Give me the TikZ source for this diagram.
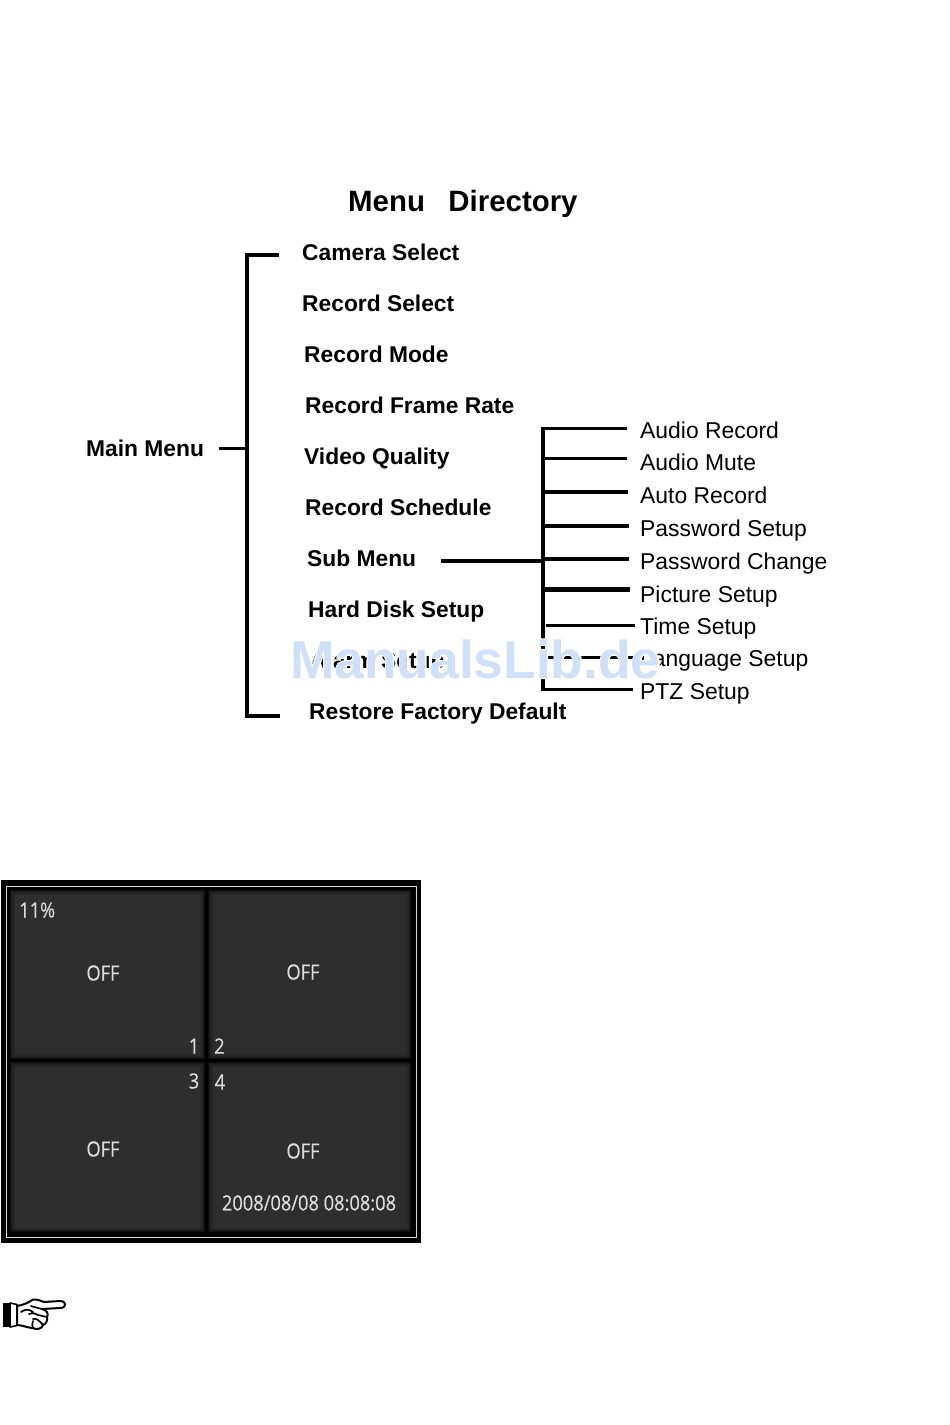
\documentclass[tikz,border=0pt]{standalone}
\usepackage{fontspec}
\setmainfont{Liberation Sans}
\newfontfamily\screenfont[FakeStretch=0.87,FakeBold=0.3]{Open Sans}
\definecolor{wmblue}{HTML}{CFE0F8}
\definecolor{panel}{HTML}{2E2E2E}
\definecolor{scrtext}{HTML}{DCDCDC}
\tikzset{
  x=1pt,y=-1pt,
  title/.style={inner sep=0,anchor=base west,font=\bfseries\fontsize{29.4}{32}\selectfont},
  mainitem/.style={inner sep=0,anchor=base west,font=\bfseries\fontsize{22.8}{26}\selectfont},
  subitem/.style={inner sep=0,anchor=base west,font=\fontsize{22.9}{27}\selectfont},
  link/.style={line width=#1,black},
  link/.default=3pt,
  watermark/.style={inner sep=0,anchor=base west,text=wmblue,font=\bfseries\fontsize{53.3}{56}\selectfont},
  scr/.style={inner sep=0,text=scrtext,font=\screenfont\fontsize{21}{24}\selectfont}
}
\begin{document}
\begin{tikzpicture}
\useasboundingbox[fill=white] (0,0) rectangle (950,1425);
% title and lists
\node[title] (title) at (348,211) {Menu\hspace{0.8em}Directory};
\node[mainitem] (main) at (86,456) {Main Menu};
\node[mainitem] (m1) at (302,260) {Camera Select};
\node[mainitem] (m2) at (302,311) {Record Select};
\node[mainitem] (m3) at (304,362) {Record Mode};
\node[mainitem] (m4) at (305,413) {Record Frame Rate};
\node[mainitem] (m5) at (304,464) {Video Quality};
\node[mainitem] (m6) at (305,515) {Record Schedule};
\node[mainitem] (m7) at (307,566) {Sub Menu};
\node[mainitem] (m8) at (308,617) {Hard Disk Setup};
\node[mainitem] (m9) at (310,668) {Alarm Setup};
\node[mainitem] (m10) at (309,719) {Restore Factory Default};
\node[subitem] (s1) at (640,438) {Audio Record};
\node[subitem] (s2) at (640,470) {Audio Mute};
\node[subitem] (s3) at (640,503) {Auto Record};
\node[subitem] (s4) at (640,536) {Password Setup};
\node[subitem] (s5) at (640,569) {Password Change};
\node[subitem] (s6) at (640,602) {Picture Setup};
\node[subitem] (s7) at (640,634) {Time Setup};
\node[subitem] (s8) at (640,666) {Language Setup};
\node[subitem] (s9) at (640,699) {PTZ Setup};
% main bracket
\coordinate (bt) at (247,255);
\coordinate (bb) at (247,716);
\coordinate (bm) at (247,448);
\draw[link=3.5pt,line join=miter] (m1.west |- bt) ++(-23,0) -- (bt) -- (bb) -- ++(33,0);
\draw[link=3pt,shorten >=15pt] (bm) -- (bm -| main.east);
% sub bracket
\coordinate (st) at (542.5,427);
\coordinate (sb) at (542.5,690);
\draw[link=4pt] (st) -- (sb);
\coordinate (l1) at (541,428.3);
\coordinate (l2) at (545,458.7);
\coordinate (l3) at (543,491.7);
\coordinate (l4) at (543,526.3);
\coordinate (l5) at (543,559);
\coordinate (l6) at (545,589.7);
\coordinate (l7) at (546,625.3);
\coordinate (l8) at (547,657);
\coordinate (l9) at (541,689);
\coordinate (subout) at (542,560.7);
\draw[link=3.3pt,shorten >=13.5pt] (l1) -- (l1 -| s1.west);
\draw[link=2.7pt,shorten >=13pt] (l2) -- (l2 -| s2.west);
\draw[link=3.8pt,shorten >=12.5pt] (l3) -- (l3 -| s3.west);
\draw[link=3.8pt,shorten >=11.5pt] (l4) -- (l4 -| s4.west);
\draw[link=3.8pt,shorten >=11pt] (l5) -- (l5 -| s5.west);
\draw[link=4.8pt,shorten >=10pt] (l6) -- (l6 -| s6.west);
\draw[link=3pt,shorten >=5.5pt] (l7) -- (l7 -| s7.west);
\draw[link=3pt,shorten >=7pt] (l8) -- (l8 -| s8.west);
\draw[link=3pt,shorten >=7pt] (l9) -- (l9 -| s9.west);
\draw[link=3.8pt] (subout -| m7.east) ++(25,0) -- (subout);
% watermark: white halo under the blue letters
\node[watermark] (wm) at (290,678) {\rlap{\special{pdf:code q 1 1 1 RG 2 w 1 Tr}ManualsLib.de\special{pdf:code Q}}ManualsLib.de};
% screen
\fill[black] (1,880) rectangle (421,1243);
\draw[color=white!85!black,line width=1pt] (6,886) rectangle (416,1237);
\foreach \xa/\ya/\xb/\yb in {10/890/205/1059, 208/890/411/1059, 10/1062/205/1232, 208/1062/411/1232}{
  \fill[panel!30!black] (\xa,\ya) rectangle (\xb,\yb);
  \fill[panel!55!black] (\xa+1,\ya+1) rectangle (\xb-1,\yb-1);
  \fill[panel!75!black] (\xa+2,\ya+2) rectangle (\xb-2,\yb-2);
  \fill[panel!90!black] (\xa+3.5,\ya+3.5) rectangle (\xb-3.5,\yb-3.5);
  \fill[panel] (\xa+5,\ya+5) rectangle (\xb-5,\yb-5);
}
\node[scr,anchor=west] (pct) at (19,910) {11\%};
\node[scr] (off1) at (103,973) {OFF};
\node[scr] (off2) at (303,972) {OFF};
\node[scr] (off3) at (103,1149) {OFF};
\node[scr] (off4) at (303,1151) {OFF};
\node[scr] (n1) at (194,1046) {1};
\node[scr] (n2) at (219.5,1046) {2};
\node[scr] (n3) at (194,1081) {3};
\node[scr] (n4) at (220,1082) {4};
\node[scr] (clock) at (309,1203) {2008/08/08 08:08:08};
% pointing hand
\fill[black] (3,1303) rectangle (10,1327);
\draw[line width=1.6pt,fill=white,line join=round]
  (10,1303) -- (17,1304.5) -- (17,1325.5) -- (10,1327) -- cycle;
\draw[line width=2pt,fill=white,line join=round]
  (17,1306) .. controls (23,1305) and (28,1303) .. (33,1299.5)
  .. controls (37,1299) and (41,1301) .. (44,1302)
  -- (60,1301) .. controls (67,1301) and (67,1308) .. (60,1308)
  -- (42,1309) .. controls (47,1310) and (49,1314) .. (47,1317)
  .. controls (48,1320) and (46,1324) .. (43,1325)
  .. controls (42,1329) and (36,1330) .. (33,1328)
  .. controls (28,1328) and (22,1325) .. (17,1325) -- cycle;
\draw[line width=1.7pt,line cap=round]
  (21,1312) .. controls (25,1309) and (29,1309) .. (33,1312)
  (42,1309) .. controls (38,1308) and (34,1307) .. (31,1306)
  (29,1314) .. controls (33,1313) and (36,1313) .. (38,1315) -- (47,1317)
  (33,1319) .. controls (36,1318) and (39,1320) .. (43,1325)
  (33,1321) .. controls (33,1324) and (31,1326) .. (33,1328);
\end{tikzpicture}
\end{document}
